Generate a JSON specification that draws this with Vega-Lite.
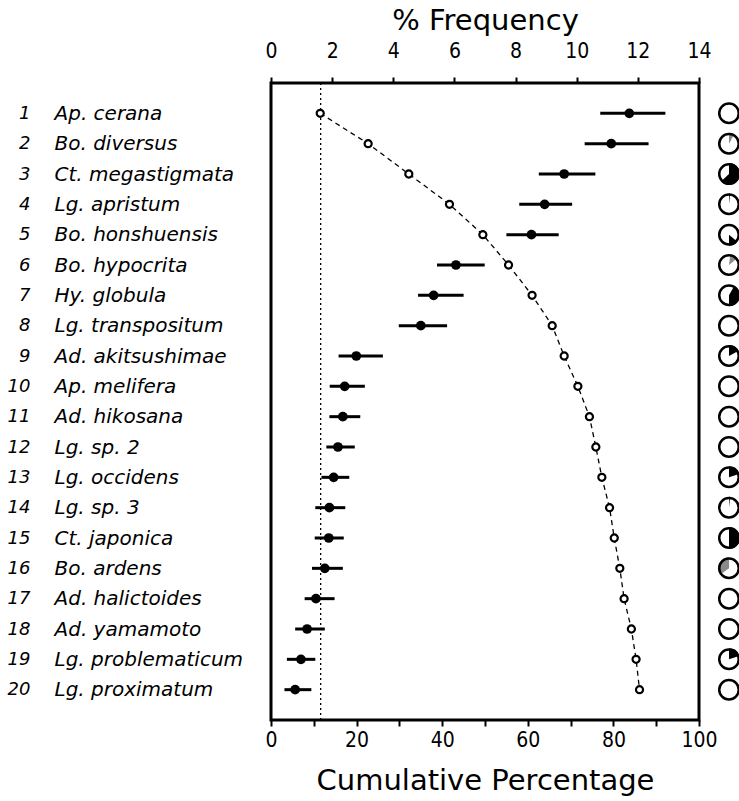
{
  "$schema": "https://vega.github.io/schema/vega-lite/v6.json",
  "padding": {"left": 5, "top": 4, "right": 0, "bottom": 0},
  "bounds": "flush",
  "spacing": 20,
  "config": {
    "font": "DejaVu Sans",
    "view": {"stroke": "black", "strokeWidth": 3},
    "axis": {"labelColor": "black", "titleColor": "black", "tickColor": "black", "grid": false}
  },
  "data": {"values": [
    {"num": 1, "name": "Ap. cerana", "f": 11.72, "lo": 10.77, "hi": 12.9, "cum": 11.5, "w0": 0, "w1": 0, "pie": "solid"},
    {"num": 2, "name": "Bo. diversus", "f": 11.13, "lo": 10.26, "hi": 12.35, "cum": 22.7, "w0": 0, "w1": 0.08, "pie": "hatched"},
    {"num": 3, "name": "Ct. megastigmata", "f": 9.59, "lo": 8.76, "hi": 10.61, "cum": 32.2, "w0": 0, "w1": 0.63, "pie": "solid"},
    {"num": 4, "name": "Lg. apristum", "f": 8.95, "lo": 8.12, "hi": 9.85, "cum": 41.7, "w0": 0, "w1": 0.015, "pie": "solid"},
    {"num": 5, "name": "Bo. honshuensis", "f": 8.52, "lo": 7.7, "hi": 9.41, "cum": 49.5, "w0": 0.36, "w1": 0.5, "pie": "solid"},
    {"num": 6, "name": "Bo. hypocrita", "f": 6.05, "lo": 5.43, "hi": 6.99, "cum": 55.5, "w0": 0.02, "w1": 0.14, "pie": "hatched"},
    {"num": 7, "name": "Hy. globula", "f": 5.32, "lo": 4.81, "hi": 6.3, "cum": 61.0, "w0": 0.08, "w1": 0.5, "pie": "solid"},
    {"num": 8, "name": "Lg. transpositum", "f": 4.9, "lo": 4.18, "hi": 5.76, "cum": 65.7, "w0": 0, "w1": 0, "pie": "solid"},
    {"num": 9, "name": "Ad. akitsushimae", "f": 2.79, "lo": 2.21, "hi": 3.66, "cum": 68.5, "w0": 0, "w1": 0.17, "pie": "solid"},
    {"num": 10, "name": "Ap. melifera", "f": 2.41, "lo": 1.92, "hi": 3.07, "cum": 71.7, "w0": 0, "w1": 0, "pie": "solid"},
    {"num": 11, "name": "Ad. hikosana", "f": 2.35, "lo": 1.91, "hi": 2.92, "cum": 74.4, "w0": 0, "w1": 0, "pie": "solid"},
    {"num": 12, "name": "Lg. sp. 2", "f": 2.19, "lo": 1.81, "hi": 2.74, "cum": 75.9, "w0": 0, "w1": 0, "pie": "solid"},
    {"num": 13, "name": "Lg. occidens", "f": 2.05, "lo": 1.65, "hi": 2.56, "cum": 77.3, "w0": 0, "w1": 0.2, "pie": "solid"},
    {"num": 14, "name": "Lg. sp. 3", "f": 1.91, "lo": 1.45, "hi": 2.43, "cum": 79.1, "w0": 0, "w1": 0.015, "pie": "solid"},
    {"num": 15, "name": "Ct. japonica", "f": 1.89, "lo": 1.43, "hi": 2.38, "cum": 80.2, "w0": 0, "w1": 0.5, "pie": "solid"},
    {"num": 16, "name": "Bo. ardens", "f": 1.76, "lo": 1.34, "hi": 2.35, "cum": 81.5, "w0": 0.65, "w1": 1.0, "pie": "hatched"},
    {"num": 17, "name": "Ad. halictoides", "f": 1.47, "lo": 1.1, "hi": 2.08, "cum": 82.5, "w0": 0, "w1": 0, "pie": "solid"},
    {"num": 18, "name": "Ad. yamamoto", "f": 1.18, "lo": 0.79, "hi": 1.76, "cum": 84.2, "w0": 0, "w1": 0, "pie": "solid"},
    {"num": 19, "name": "Lg. problematicum", "f": 0.98, "lo": 0.52, "hi": 1.45, "cum": 85.3, "w0": 0, "w1": 0.2, "pie": "solid"},
    {"num": 20, "name": "Lg. proximatum", "f": 0.79, "lo": 0.44, "hi": 1.32, "cum": 86.1, "w0": 0, "w1": 0, "pie": "solid"}
  ]},
  "hconcat": [
    {
      "width": 428,
      "height": 637,
      "layer": [
        {
          "layer": [
            {
              "mark": {"type": "rule", "strokeWidth": 3, "color": "black"},
              "encoding": {
                "y": {
                  "field": "name", "type": "nominal", "sort": null,
                  "scale": {"type": "point", "padding": 1},
                  "axis": {
                    "orient": "left", "title": null, "domain": false, "ticks": false,
                    "labelAlign": "left", "labelBaseline": "middle", "labelPadding": 217,
                    "labelFont": "DejaVu Sans", "labelFontStyle": "italic", "labelFontSize": 20,
                    "labelLimit": 300
                  }
                },
                "x": {
                  "field": "lo", "type": "quantitative",
                  "scale": {"domain": [0, 14], "nice": false, "zero": false},
                  "axis": {
                    "orient": "top",
                    "values": [0, 1, 2, 3, 4, 5, 6, 7, 8, 9, 10, 11, 12, 13, 14],
                    "labelExpr": "datum.value % 2 == 0 ? datum.label : ''",
                    "domain": false, "ticks": true, "tickSize": 6, "tickWidth": 2,
                    "labelPadding": 16, "labelFont": "DejaVu Sans Condensed, DejaVu Sans",
                    "labelFontSize": 21, "labelFlush": false, "labelOverlap": false,
                    "title": "% Frequency", "titleFont": "DejaVu Sans", "titleFontSize": 29,
                    "titleFontWeight": "normal", "titlePadding": 5
                  }
                },
                "x2": {"field": "hi"}
              }
            },
            {
              "mark": {"type": "rule", "strokeWidth": 1, "strokeDash": [2, 3], "color": "black"},
              "encoding": {"x": {"datum": 1.62}}
            },
            {
              "mark": {"type": "point", "shape": "circle", "filled": true, "size": 95, "color": "black", "opacity": 1},
              "encoding": {
                "x": {"field": "f", "type": "quantitative"},
                "y": {"field": "name", "type": "nominal", "sort": null}
              }
            }
          ]
        },
        {
          "layer": [
            {
              "mark": {"type": "line", "strokeDash": [5, 4], "strokeWidth": 1.3, "color": "black"},
              "encoding": {
                "y": {
                  "field": "num", "type": "ordinal",
                  "scale": {"type": "point", "padding": 1},
                  "axis": {
                    "orient": "left", "title": null, "domain": false, "ticks": false,
                    "labelAlign": "right", "labelBaseline": "middle", "labelPadding": 241,
                    "labelFont": "DejaVu Sans", "labelFontStyle": "italic", "labelFontSize": 18
                  }
                },
                "x": {
                  "field": "cum", "type": "quantitative",
                  "scale": {"domain": [0, 100], "nice": false, "zero": false},
                  "axis": {
                    "orient": "bottom",
                    "values": [0, 10, 20, 30, 40, 50, 60, 70, 80, 90, 100],
                    "labelExpr": "datum.value % 20 == 0 ? datum.label : ''",
                    "domain": false, "ticks": true, "tickSize": 6, "tickWidth": 2,
                    "labelPadding": 3, "labelFont": "DejaVu Sans Condensed, DejaVu Sans",
                    "labelFontSize": 21, "labelFlush": false, "labelOverlap": false,
                    "title": "Cumulative Percentage", "titleFont": "DejaVu Sans", "titleFontSize": 29,
                    "titleFontWeight": "normal", "titlePadding": 16
                  }
                },
                "order": {"field": "num", "type": "quantitative"}
              }
            },
            {
              "mark": {"type": "point", "shape": "circle", "filled": true, "fill": "white", "stroke": "black", "strokeWidth": 2.2, "size": 50, "opacity": 1},
              "encoding": {
                "x": {"field": "cum", "type": "quantitative"},
                "y": {"field": "num", "type": "ordinal"}
              }
            }
          ]
        }
      ],
      "resolve": {
        "scale": {"x": "independent", "y": "independent"},
        "axis": {"x": "independent", "y": "independent"}
      }
    },
    {
      "width": 20,
      "height": 637,
      "view": {"stroke": null},
      "encoding": {
        "y": {"field": "num", "type": "ordinal", "scale": {"type": "point", "padding": 1}, "axis": null}
      },
      "layer": [
        {
          "mark": {"type": "point", "shape": "circle", "filled": true, "fill": "white", "strokeWidth": 0, "size": 380, "opacity": 1},
          "encoding": {}
        },
        {
          "transform": [{"filter": "datum.w1 > datum.w0"}],
          "mark": {"type": "arc", "outerRadius": 11},
          "encoding": {
            "theta": {"field": "w0", "type": "quantitative", "stack": null, "scale": {"domain": [0, 1], "range": [0, 6.2832]}},
            "theta2": {"field": "w1"},
            "color": {"field": "pie", "type": "nominal", "scale": {"domain": ["solid", "hatched"], "range": ["black", "#8a8a8a"]}, "legend": null}
          }
        },
        {
          "mark": {"type": "point", "shape": "circle", "filled": false, "stroke": "black", "strokeWidth": 2.5, "size": 380, "opacity": 1},
          "encoding": {}
        }
      ]
    }
  ]
}
